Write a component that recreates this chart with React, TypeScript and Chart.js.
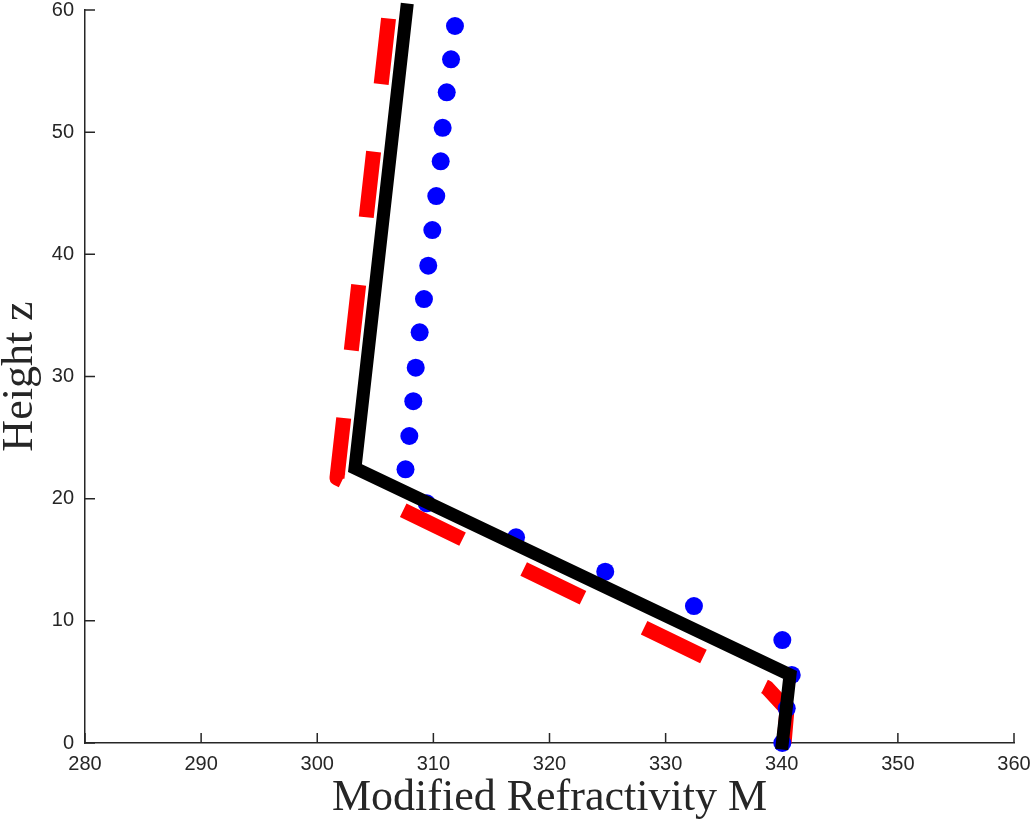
import { useEffect, useRef } from "react";
import { Chart, registerables } from "chart.js";

Chart.register(...registerables);

// Axis tick values
const xTickValues = [280, 290, 300, 310, 320, 330, 340, 350, 360];
const yTickValues = [0, 10, 20, 30, 40, 50, 60];

// Sampled profile (blue dots): modified refractivity M vs height z
const sampleM = [
  340.05, 340.43, 340.86, 340.05, 332.44, 324.8, 317.12, 309.43, 307.6, 307.93, 308.27,
  308.48, 308.82, 309.19, 309.56, 309.91, 310.25, 310.63, 310.8, 311.15, 311.52, 311.86,
];
const sampleZ = [
  0, 2.84, 5.57, 8.43, 11.21, 14.02, 16.84, 19.62, 22.4, 25.13, 27.98,
  30.72, 33.62, 36.34, 39.07, 41.99, 44.77, 47.61, 50.36, 53.26, 55.96, 58.69,
];

// Piecewise-linear fitted profile (solid black)
const fitM = [340.05, 340.71, 303.25, 307.69];
const fitZ = [0, 5.57, 22.51, 60];

// Alternative piecewise profile (dashed red)
const altM = [340.2, 340.45, 338.7, 301.7, 306.22];
const altZ = [0, 2.75, 4.55, 21.7, 60];

const axisColor = "#262626";
const toPoints = (xs: number[], ys: number[]) => xs.map((x, i) => ({ x, y: ys[i] }));

// Tick marks pointing into the plot area
const inwardTicks = {
  id: "inwardTicks",
  beforeDatasetsDraw(chart: any) {
    const { ctx, chartArea, scales } = chart;
    const xs = scales.x;
    const ys = scales.y;
    const len = 10;
    ctx.save();
    ctx.strokeStyle = axisColor;
    ctx.lineWidth = 1.5;
    ctx.beginPath();
    xs.ticks.forEach((t: any) => {
      const px = xs.getPixelForValue(t.value);
      ctx.moveTo(px, chartArea.bottom);
      ctx.lineTo(px, chartArea.bottom - len);
    });
    ys.ticks.forEach((t: any) => {
      const py = ys.getPixelForValue(t.value);
      ctx.moveTo(chartArea.left, py);
      ctx.lineTo(chartArea.left + len, py);
    });
    ctx.stroke();
    ctx.restore();
  },
};

function RefractivityChart() {
  const canvasRef = useRef<HTMLCanvasElement | null>(null);

  useEffect(() => {
    const canvas = canvasRef.current;
    if (!canvas) return;
    const tickFont = { family: "'Liberation Sans', Arial, sans-serif", size: 20 };
    const titleFont = { family: "'Liberation Serif', 'Times New Roman', serif", size: 44, lineHeight: 1 };

    const chart = new Chart(canvas, {
      type: "scatter",
      data: {
        datasets: [
          {
            label: "fit",
            data: toPoints(fitM, fitZ),
            showLine: true,
            borderColor: "#000000",
            borderWidth: 13,
            borderCapStyle: "square",
            borderJoinStyle: "miter",
            pointRadius: 0,
            pointHoverRadius: 0,
            order: 1,
            clip: false,
          } as any,
          {
            label: "samples",
            data: toPoints(sampleM, sampleZ),
            showLine: false,
            pointRadius: 9,
            pointHoverRadius: 9,
            pointBackgroundColor: "#0000ff",
            pointBorderWidth: 0,
            backgroundColor: "#0000ff",
            borderColor: "#0000ff",
            order: 2,
            clip: false,
          } as any,
          {
            label: "alt",
            data: toPoints(altM, altZ),
            showLine: true,
            borderColor: "#ff0000",
            borderWidth: 15,
            borderDash: [66, 68],
            borderCapStyle: "butt",
            borderJoinStyle: "round",
            pointRadius: 0,
            pointHoverRadius: 0,
            order: 3,
            clip: false,
          } as any,
        ],
      },
      options: {
        responsive: false,
        animation: false,
        events: [],
        layout: { padding: { left: 0, top: 10, right: 18, bottom: 0 } },
        plugins: {
          legend: { display: false },
          tooltip: { enabled: false },
        },
        scales: {
          x: {
            type: "linear",
            min: 280,
            max: 360,
            afterBuildTicks: (s: any) => {
              s.ticks = xTickValues.map((value) => ({ value }));
            },
            afterFit: (s: any) => {
              s.height = 80;
              s.paddingLeft = 0;
              s.paddingRight = 0;
            },
            grid: { display: false, drawTicks: false },
            border: { display: true, color: axisColor, width: 1.5 },
            ticks: { color: axisColor, font: tickFont, padding: 9, maxRotation: 0 },
            title: {
              display: true,
              text: "Modified Refractivity M",
              color: axisColor,
              font: titleFont,
              padding: { top: 0, bottom: 3 },
            },
          },
          y: {
            type: "linear",
            min: 0,
            max: 60,
            afterBuildTicks: (s: any) => {
              s.ticks = yTickValues.map((value) => ({ value }));
            },
            afterFit: (s: any) => {
              s.width = 85;
              s.paddingTop = 0;
              s.paddingBottom = 0;
            },
            grid: { display: false, drawTicks: false },
            border: { display: true, color: axisColor, width: 1.5 },
            ticks: { color: axisColor, font: tickFont, padding: 11 },
            title: {
              display: true,
              text: "Height z",
              color: axisColor,
              font: titleFont,
              padding: { top: -2, bottom: 0 },
            },
          },
        },
      } as any,
      plugins: [inwardTicks],
    });

    return () => {
      chart.destroy();
    };
  }, []);

  return <canvas ref={canvasRef} width={1032} height={823} style={{ display: "block" }} />;
}

export default function App() {
  return (
    <div style={{ position: "fixed", left: 0, top: 0, width: 1032, height: 823, background: "#ffffff" }}>
      <RefractivityChart />
    </div>
  );
}
